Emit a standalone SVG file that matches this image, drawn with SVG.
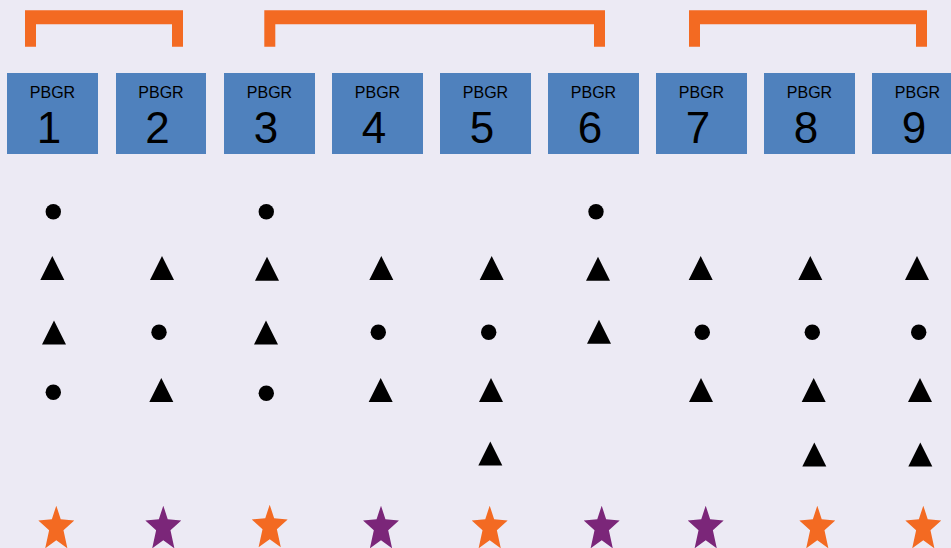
<svg xmlns="http://www.w3.org/2000/svg" width="951" height="548" viewBox="0 0 951 548">
<defs>
<style>
.box{fill:#4F81BD}
.lbl{font-family:"Liberation Sans",Arial,sans-serif;font-size:16px;fill:#000;text-anchor:middle}
.num{font-family:"Liberation Sans",Arial,sans-serif;font-size:44px;fill:#000;text-anchor:middle}
.br{fill:#F36A22;stroke:none}
.dot{fill:#000}
.or{fill:#F36A22}
.pu{fill:#7B2679}
</style>
<path id="tri" d="M0,-12 L12,12 L-12,12 Z"/>
<path id="star" d="M0,-21.35 L4.44,-7.86 L17.97,-6.61 L7.18,3.15 L11.11,21.35 L0,13.2 L-11.11,21.35 L-7.18,3.15 L-17.97,-6.61 L-4.44,-7.86 Z"/>
</defs>
<rect width="951" height="548" fill="#ECEAF4"/>
<g id="brackets">
<path class="br" d="M25,46.7 V10.3 H183 V46.7 H172 V24.3 H36 V46.7 Z"/>
<path class="br" d="M264.3,46.7 V10.3 H605 V46.7 H594 V24.3 H275.3 V46.7 Z"/>
<path class="br" d="M689,46.7 V10.3 H927 V46.7 H916 V24.3 H700 V46.7 Z"/>
</g>
<g id="node1"><rect class="box" x="7" y="73" width="91" height="81"/><text class="lbl" x="52.5" y="98">PBGR</text><text class="num" x="49" y="143">1</text></g>
<g id="node2"><rect class="box" x="116" y="73" width="90" height="81"/><text class="lbl" x="161" y="98">PBGR</text><text class="num" x="157.5" y="143">2</text></g>
<g id="node3"><rect class="box" x="224" y="73" width="91" height="81"/><text class="lbl" x="269.5" y="98">PBGR</text><text class="num" x="266" y="143">3</text></g>
<g id="node4"><rect class="box" x="332" y="73" width="91" height="81"/><text class="lbl" x="377.5" y="98">PBGR</text><text class="num" x="374" y="143">4</text></g>
<g id="node5"><rect class="box" x="440" y="73" width="91" height="81"/><text class="lbl" x="485.5" y="98">PBGR</text><text class="num" x="482" y="143">5</text></g>
<g id="node6"><rect class="box" x="548" y="73" width="91" height="81"/><text class="lbl" x="593.5" y="98">PBGR</text><text class="num" x="590" y="143">6</text></g>
<g id="node7"><rect class="box" x="656" y="73" width="91" height="81"/><text class="lbl" x="701.5" y="98">PBGR</text><text class="num" x="698" y="143">7</text></g>
<g id="node8"><rect class="box" x="764" y="73" width="91" height="81"/><text class="lbl" x="809.5" y="98">PBGR</text><text class="num" x="806" y="143">8</text></g>
<g id="node9"><rect class="box" x="872" y="73" width="91" height="81"/><text class="lbl" x="917.5" y="98">PBGR</text><text class="num" x="914" y="143">9</text></g>
<g id="col1">
<circle class="dot" cx="53.3" cy="211.7" r="7.7"/>
<use href="#tri" x="52.3" y="268"/>
<use href="#tri" x="54" y="332.5"/>
<circle class="dot" cx="53.3" cy="392.3" r="7.7"/>
<use href="#star" class="or" x="56.3" y="527"/>
</g>
<g id="col2">
<use href="#tri" x="162" y="268"/>
<circle class="dot" cx="159" cy="332.3" r="7.7"/>
<use href="#tri" x="161.3" y="390"/>
<use href="#star" class="pu" x="163.3" y="527"/>
</g>
<g id="col3">
<circle class="dot" cx="266.3" cy="211.7" r="7.7"/>
<use href="#tri" x="267" y="268.7"/>
<use href="#tri" x="266" y="332.5"/>
<circle class="dot" cx="266.3" cy="393.3" r="7.7"/>
<use href="#star" class="or" x="269.7" y="526"/>
</g>
<g id="col4">
<use href="#tri" x="381.3" y="268"/>
<circle class="dot" cx="378.3" cy="332.3" r="7.7"/>
<use href="#tri" x="380.7" y="390"/>
<use href="#star" class="pu" x="381" y="527"/>
</g>
<g id="col5">
<use href="#tri" x="491.7" y="268"/>
<circle class="dot" cx="488.7" cy="332.3" r="7.7"/>
<use href="#tri" x="491" y="390"/>
<use href="#tri" x="490.3" y="453.5"/>
<use href="#star" class="or" x="489.7" y="527"/>
</g>
<g id="col6">
<circle class="dot" cx="596" cy="211.7" r="7.7"/>
<use href="#tri" x="598" y="268.7"/>
<use href="#tri" x="599" y="331.7"/>
<use href="#star" class="pu" x="601.7" y="527"/>
</g>
<g id="col7">
<use href="#tri" x="700.7" y="268"/>
<circle class="dot" cx="702.3" cy="332.3" r="7.7"/>
<use href="#tri" x="701" y="390"/>
<use href="#star" class="pu" x="705.7" y="527"/>
</g>
<g id="col8">
<use href="#tri" x="810.3" y="268"/>
<circle class="dot" cx="812.3" cy="332.3" r="7.7"/>
<use href="#tri" x="813.7" y="390"/>
<use href="#tri" x="814.3" y="454.5"/>
<use href="#star" class="or" x="817.3" y="527"/>
</g>
<g id="col9">
<use href="#tri" x="917" y="268"/>
<circle class="dot" cx="918.7" cy="332.3" r="7.7"/>
<use href="#tri" x="920" y="390"/>
<use href="#tri" x="920.3" y="454.5"/>
<use href="#star" class="or" x="923.3" y="527"/>
</g>
</svg>
